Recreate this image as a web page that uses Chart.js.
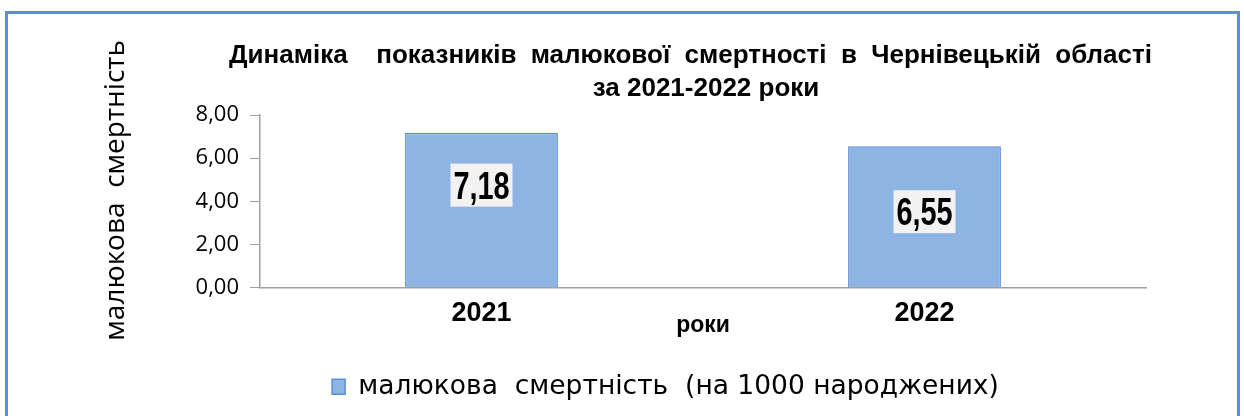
<!DOCTYPE html>
<html><head><meta charset="utf-8">
<script src="https://cdn.jsdelivr.net/npm/chart.js@4"></script>
<style>
html,body{margin:0;padding:0;background:#fff;}
#wrap{position:relative;width:1244px;height:416px;overflow:hidden;background:#fff;}
#frame{position:absolute;left:5px;top:11px;width:1235px;height:430px;border:3px solid #5B8ED6;box-sizing:border-box;}
#c{position:absolute;left:0;top:0;}
</style></head><body>
<div id="wrap"><div id="frame"></div><canvas id="c" width="1244" height="416"></canvas></div>
<script>
const categories = ['2021', '2022'];
const values = [7.18, 6.55];
const seriesName = 'малюкова  смертність  (на 1000 народжених)';
const titleLines = ['Динаміка  показників малюкової смертності в Чернівецькій області', 'за 2021-2022 роки'];
const yAxisTitle = '   малюкова  смертність';
const xAxisTitle = 'роки';
const yTickValues = [0, 2, 4, 6, 8];

const fmt = v => Number(v).toFixed(2).replace('.', ',');

const titlePlugin = {
  id: 'justTitle',
  afterDraw(chart, args, o) {
    const ctx = chart.ctx;
    ctx.save();
    ctx.fillStyle = '#000';
    ctx.font = o.font;
    ctx.textBaseline = 'alphabetic';
    const l1 = o.lines[0];
    const parts = l1.split(' ');
    const nSp = parts.length - 1;
    const natural = ctx.measureText(l1).width;
    const extra = (o.right - o.left - natural) / nSp;
    const sp = ctx.measureText(' ').width;
    let x = o.left;
    ctx.textAlign = 'left';
    parts.forEach((p, i) => {
      if (p) ctx.fillText(p, x, o.base1);
      x += ctx.measureText(p).width;
      if (i < nSp) x += sp + extra;
    });
    ctx.textAlign = 'center';
    ctx.fillText(o.lines[1], o.center2, o.base2);
    ctx.restore();
  }
};

const labelPlugin = {
  id: 'barLabels',
  afterDatasetsDraw(chart, args, o) {
    const ctx = chart.ctx;
    const meta = chart.getDatasetMeta(0);
    meta.data.forEach((bar, i) => {
      const txt = fmt(chart.data.datasets[0].data[i]);
      const cy = bar.y + (bar.base - bar.y) * o.positions[i];
      const cx = bar.x;
      ctx.save();
      ctx.fillStyle = o.boxColor;
      ctx.fillRect(cx - o.boxW / 2, cy - o.boxH / 2, o.boxW, o.boxH);
      ctx.translate(cx, cy + o.capH / 2);
      ctx.scale(o.sx, 1);
      ctx.font = o.font;
      ctx.fillStyle = '#000';
      ctx.textAlign = 'center';
      ctx.textBaseline = 'alphabetic';
      ctx.fillText(txt, 0, 0);
      ctx.restore();
    });
  }
};

Chart.defaults.font.family = '"Liberation Sans", Arial, sans-serif';
Chart.defaults.color = '#000';

new Chart(document.getElementById('c'), {
  type: 'bar',
  data: {
    labels: categories,
    datasets: [{
      label: seriesName,
      data: values,
      backgroundColor: '#8EB4E3',
      borderColor: '#5B8ED6',
      borderWidth: 1.5,
      barPercentage: 0.345,
      categoryPercentage: 1
    }]
  },
  options: {
    responsive: false,
    animation: false,
    layout: { padding: { left: 185, right: 98, top: 115, bottom: 6 } },
    scales: {
      y: {
        min: 0, max: 8,
        afterFit(s) { s.width = 75; },
        afterBuildTicks(s) { s.ticks = yTickValues.map(v => ({ value: v })); },
        ticks: {
          callback: v => fmt(v),
          font: { family: '"Open Sans", sans-serif', size: 22 },
          color: '#000',
          padding: 11
        },
        grid: { drawOnChartArea: false, drawTicks: true, tickLength: 10, color: '#A0A0A0', lineWidth: 1 },
        border: { display: true, color: '#A0A0A0', width: 1.5 },
        title: {
          display: true, text: yAxisTitle,
          font: { family: '"Open Sans", sans-serif', size: 28, lineHeight: 1.2 },
          color: '#000',
          padding: { top: -85.8, bottom: 0 }
        }
      },
      x: {
        afterFit(s) { s.height = 74; },
        grid: { display: false, drawTicks: false },
        border: { display: true, color: '#A0A0A0', width: 1.5 },
        ticks: { font: { size: 27, weight: 'bold' }, color: '#000', padding: 10 },
        title: {
          display: true, text: xAxisTitle,
          font: { size: 23, weight: 'bold', lineHeight: 1.2 },
          color: '#000',
          padding: { top: 0, bottom: 22 }
        }
      }
    },
    plugins: {
      legend: {
        position: 'bottom',
        labels: {
          boxWidth: 13, boxHeight: 15,
          font: { family: '"DejaVu Sans", sans-serif', size: 26.5 },
          color: '#000',
          padding: 12
        }
      },
      tooltip: { enabled: false },
      justTitle: {
        lines: titleLines,
        font: 'bold 26px "Liberation Sans", Arial, sans-serif',
        left: 229, right: 1152, base1: 63, center2: 706, base2: 96
      },
      barLabels: {
        positions: [0.34, 0.465],
        boxW: 62, boxH: 43, boxColor: '#F2F2F2',
        font: 'bold 38px "Liberation Sans", Arial, sans-serif',
        sx: 0.76, capH: 27
      }
    }
  },
  plugins: [titlePlugin, labelPlugin]
});
</script>
</body></html>
